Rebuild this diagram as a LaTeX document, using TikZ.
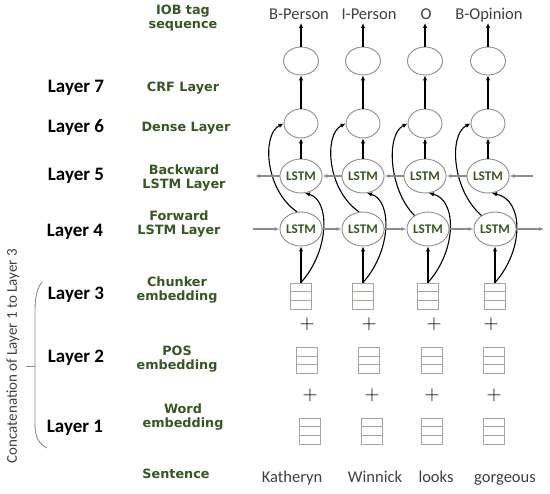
\documentclass[tikz,border=0pt]{standalone}
\usepackage{fontspec}
\setmainfont{Carlito}
\newfontfamily\verd{DejaVu Sans}
\usetikzlibrary{shapes.geometric,arrows.meta,calc}
\definecolor{lblgreen}{RGB}{56,87,35}
\definecolor{edgegray}{RGB}{140,140,140}
\definecolor{boxgray}{RGB}{168,164,156}
\definecolor{txtgray}{RGB}{64,64,64}
\begin{document}
\begin{tikzpicture}[x=1pt,y=-1pt,
  glabel/.style={text=lblgreen, font=\verd\bfseries\fontsize{12.8}{14}\selectfont, align=center, inner sep=0},
  llabel/.style={font=\bfseries\fontsize{19}{22}\selectfont, inner sep=0, anchor=base},
  tagtext/.style={text=txtgray, font=\fontsize{16.5}{18}\selectfont, inner sep=0, anchor=base},
  wordtext/.style={text=txtgray, font=\fontsize{16.5}{18}\selectfont, inner sep=0, anchor=base},
  cellshape/.style={draw=edgegray, line width=0.9pt, ellipse, inner sep=0},
  crfcell/.style={cellshape, minimum width=35pt, minimum height=28pt},
  densecell/.style={cellshape, minimum width=34pt, minimum height=29pt},
  lstmcell/.style={cellshape, minimum width=42pt, minimum height=34pt, text=lblgreen, font=\bfseries\fontsize{13.2}{14}\selectfont},
  embbox/.style={draw=boxgray, line width=0.9pt, minimum width=21pt, minimum height=26pt, inner sep=0,
    path picture={\draw[boxgray, line width=0.9pt]
      ($(path picture bounding box.north west)!0.3333!(path picture bounding box.south west)$) --
      ($(path picture bounding box.north east)!0.3333!(path picture bounding box.south east)$)
      ($(path picture bounding box.north west)!0.6667!(path picture bounding box.south west)$) --
      ($(path picture bounding box.north east)!0.6667!(path picture bounding box.south east)$);}},
  plussign/.style={inner sep=0, text=black, font=\fontsize{21}{21}\selectfont},
  blk/.style={line width=1.5pt, -{Latex[length=5pt,width=4.5pt]}},
  curv/.style={line width=1.1pt, -{Latex[length=5pt,width=4.5pt]}},
  gry/.style={draw=edgegray, line width=1.1pt, -{Latex[length=5pt,width=4pt]}},
]
\fill[white] (0,0) rectangle (550,494);
\useasboundingbox (0,0) rectangle (550,494);

% left labels
\node[llabel] (L7) at (76,93) {Layer 7};
\node[llabel] (L6) at (76,133) {Layer 6};
\node[llabel] (L5) at (76,181) {Layer 5};
\node[llabel] (L4) at (75,237) {Layer 4};
\node[llabel] (L3) at (76,300) {Layer 3};
\node[llabel] (L2) at (76,363) {Layer 2};
\node[llabel] (L1) at (75,433) {Layer 1};

% green labels
\node[glabel] (gIOB) at (183,18.5) {IOB tag\\sequence};
\node[glabel] (gCRF) at (183,88) {CRF Layer};
\node[glabel] (gDense) at (186,128) {Dense Layer};
\node[glabel] (gBack) at (184,178.5) {Backward\\LSTM Layer};
\node[glabel] (gFwd) at (179,224.5) {Forward\\LSTM Layer};
\node[glabel] (gChunk) at (177,290.5) {Chunker\\embedding};
\node[glabel] (gPOS) at (177,359.5) {POS\\embedding};
\node[glabel] (gWord) at (183,417) {Word\\embedding};
\node[glabel] (gSent) at (176,473.5) {Sentence};

% bracket and vertical text
\draw[edgegray, line width=0.9pt] (42,282) .. controls (37,288) and (35,298) .. (35,310) -- (35,425) .. controls (35,437) and (39,444) .. (47,448);
\draw[edgegray, line width=0.9pt] (35,366) -- (26,366);
\node[rotate=90, text=txtgray, font=\fontsize{15}{17}\selectfont, inner sep=0] (concat) at (13,356) {Concatenation of Layer 1 to Layer 3};

% columns
\foreach \i/\u/\l in {1/301/301, 2/363/363, 3/425/428, 4/488/495} {
  \node[crfcell] (crf\i) at (\u,61) {};
  \node[densecell] (den\i) at (\u,123.5) {};
  \node[lstmcell] (bw\i) at (\u,176) {LSTM};
  \node[lstmcell] (fw\i) at (\l,229) {LSTM};
  \node[embbox] (ch\i) at (\l,296) {};
  \coordinate (top\i) at (\u,23);
}
\foreach \i/\x in {1/307, 2/369, 3/432, 4/494} {
  \node[embbox] (pos\i) at (\x,360.5) {};
}
\foreach \i/\x in {1/310, 2/372, 3/432, 4/494} {
  \node[embbox] (wd\i) at (\x,431) {};
}
\foreach \i/\x in {1/307, 2/369, 3/434, 4/491} {
  \node[plussign] (pa\i) at (\x,324) {$+$};
}
\foreach \i/\x in {1/310, 2/372, 3/432, 4/494} {
  \node[plussign] (pb\i) at (\x,395) {$+$};
}

% tags
\node[tagtext] (t1) at (299,19.5) {B-Person};
\node[tagtext] (t2) at (369,19.5) {I-Person};
\node[tagtext] (t3) at (426,19.5) {O};
\node[tagtext] (t4) at (489,19.5) {B-Opinion};

% words
\node[wordtext] (w1) at (292,483) {Katheryn};
\node[wordtext] (w2) at (375,483) {Winnick};
\node[wordtext] (w3) at (436,483) {looks};
\node[wordtext] (w4) at (505,483) {gorgeous};

% vertical arrows
\foreach \i in {1,...,4} {
  \draw[blk] (crf\i.north) -- (top\i);
  \draw[blk] (den\i.north) -- (crf\i.south);
  \draw[blk] (bw\i.north) -- (den\i.south);
  \draw[blk] (ch\i.north) -- (fw\i.south);
}

% curves
\foreach \i/\u/\l/\a in {1/301/301/103, 2/363/363/103, 3/425/428/135, 4/488/495/135} {
  \draw[curv] (ch\i.north) .. controls (\l+29,250) and (\l+29,200) .. (bw\i.-77);
  \draw[curv] (fw\i.\a) .. controls (\u-36,190) and ($(den\i.west)+(-22,11)$) .. (den\i.west);
}

% gray horizontal arrows
\coordinate (bwR) at (533,176);
\coordinate (bwL) at (255,176);
\coordinate (fwL) at (253,229);
\coordinate (fwR) at (544,229);
\draw[gry] (bwR) -- (bw4.east);
\draw[gry] (bw4.west) -- (bw3.east);
\draw[gry] (bw3.west) -- (bw2.east);
\draw[gry] (bw2.west) -- (bw1.east);
\draw[gry] (bw1.west) -- (bwL);
\draw[gry] (fwL) -- (fw1.west);
\draw[gry] (fw1.east) -- (fw2.west);
\draw[gry] (fw2.east) -- (fw3.west);
\draw[gry] (fw3.east) -- (fw4.west);
\draw[gry] (fw4.east) -- (fwR);
\end{tikzpicture}
\end{document}
